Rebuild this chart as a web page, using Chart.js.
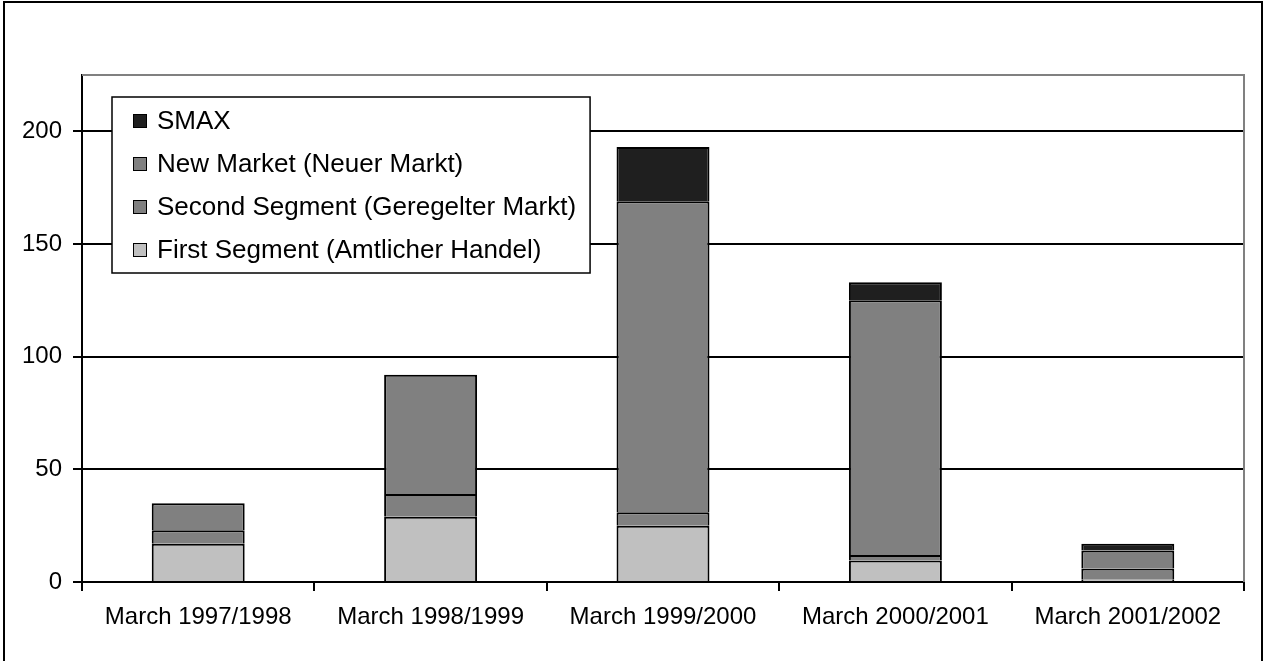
<!DOCTYPE html>
<html>
<head>
<meta charset="utf-8">
<script src="https://cdn.jsdelivr.net/npm/chart.js@4"></script>
<style>
  html, body { margin: 0; padding: 0; background: #fff; }
  #wrap { position: relative; width: 1264px; height: 661px; }
</style>
</head>
<body>
<div id="wrap"><canvas id="chart"></canvas></div>
<script>
const categories = [
  'March 1997/1998',
  'March 1998/1999',
  'March 1999/2000',
  'March 2000/2001',
  'March 2001/2002',
];
const firstSegment = [17, 29, 25, 9.5, 1];
const secondSegment = [6, 10, 6, 2.5, 5];
const newMarket = [12, 53, 138, 113, 8];
const smax = [null, null, 24, 8, 3];
const yTicks = [0, 50, 100, 150, 200];

const FONT = "'Liberation Sans', Arial, sans-serif";

// outer frame, plot frame and the boxed legend inside the plot
const framePlugin = {
  id: 'frame',
  afterDraw(chart) {
    const ctx = chart.ctx;
    const a = chart.chartArea;
    ctx.save();
    ctx.strokeStyle = '#808080';
    ctx.lineWidth = 2;
    ctx.beginPath();
    ctx.moveTo(a.left, a.top);
    ctx.lineTo(a.right, a.top);
    ctx.lineTo(a.right, a.bottom);
    ctx.stroke();

    // outer frame (bottom edge falls outside the picture)
    ctx.strokeStyle = '#000';
    ctx.beginPath();
    ctx.moveTo(4, 661);
    ctx.lineTo(4, 2);
    ctx.lineTo(1262, 2);
    ctx.lineTo(1262, 661);
    ctx.stroke();

    // legend, top-down in reverse stack order
    const items = chart.data.datasets.slice().reverse();
    ctx.font = '26px ' + FONT;
    const textW = Math.max(...items.map((d) => ctx.measureText(d.label).width));
    const x = a.left + 30;
    const y = a.top + 22;
    const w = 21 + 14 + 10 + textW + 14;
    const h = 176;
    ctx.fillStyle = '#fff';
    ctx.fillRect(x, y, w, h);
    ctx.lineWidth = 1.5;
    ctx.strokeStyle = '#000';
    ctx.strokeRect(x, y, w, h);
    ctx.textBaseline = 'middle';
    items.forEach((d, i) => {
      const cy = y + 24 + i * 43;
      ctx.fillStyle = d.backgroundColor;
      ctx.fillRect(x + 21, cy - 7, 14, 14);
      ctx.lineWidth = 1;
      ctx.strokeRect(x + 21.5, cy - 6.5, 13, 13);
      ctx.fillStyle = '#000';
      ctx.fillText(d.label, x + 45, cy + 1);
    });
    ctx.restore();
  },
};

new Chart(document.getElementById('chart'), {
  type: 'bar',
  data: {
    labels: categories,
    datasets: [
      { label: 'First Segment (Amtlicher Handel)', data: firstSegment, backgroundColor: '#c0c0c0' },
      { label: 'Second Segment (Geregelter Markt)', data: secondSegment, backgroundColor: '#808080' },
      { label: 'New Market (Neuer Markt)', data: newMarket, backgroundColor: '#808080' },
      { label: 'SMAX', data: smax, backgroundColor: '#1f1f1f' },
    ].map((ds) => ({
      borderColor: '#000',
      borderWidth: 2,
      barPercentage: 1,
      categoryPercentage: 0.4,
      ...ds,
    })),
  },
  options: {
    responsive: true,
    maintainAspectRatio: false,
    animation: false,
    layout: { padding: { top: 75, right: 20, left: 0, bottom: 0 } },
    plugins: {
      legend: { display: false },
      tooltip: { enabled: false },
    },
    scales: {
      x: {
        stacked: true,
        offset: true,
        grid: {
          offset: true,
          drawOnChartArea: false,
          drawTicks: true,
          tickLength: 9,
          color: '#000',
          lineWidth: 2,
        },
        border: { display: true, color: '#000', width: 2 },
        ticks: { color: '#000', font: { family: FONT, size: 24 }, padding: 12, maxRotation: 0 },
        afterFit(scale) { scale.height = 79; },
      },
      y: {
        stacked: true,
        min: 0,
        max: 225,
        afterBuildTicks(scale) {
          scale.ticks = yTicks.map((v) => ({ value: v }));
        },
        grid: {
          color: '#000',
          lineWidth: 2,
          drawTicks: true,
          tickLength: 9,
        },
        border: { display: true, color: '#000', width: 2 },
        ticks: { color: '#000', font: { family: FONT, size: 24 }, padding: 11 },
        afterFit(scale) { scale.width = 82; },
      },
    },
  },
  plugins: [framePlugin],
});
</script>
</body>
</html>
